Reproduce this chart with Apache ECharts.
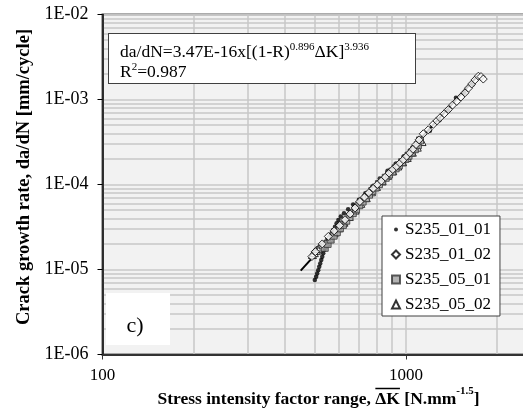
<!DOCTYPE html>
<html><head><meta charset="utf-8">
<script src="https://cdn.jsdelivr.net/npm/echarts@6/dist/echarts.min.js"></script>
<style>html,body{margin:0;padding:0;background:#fff}#c{width:523px;height:412px}</style>
</head><body><div id="c"></div>
<script>
// ---- data ----
const xTickLabels = ['100', '1000'];
const yTickLabels = ['1E-06', '1E-05', '1E-04', '1E-03', '1E-02'];
const seriesNames = ['S235_01_01', 'S235_01_02', 'S235_05_01', 'S235_05_02'];

const fitX = [450, 1700];
const fitY = [9.7e-6, 1.8e-3];

const s0101X = [501, 506, 510, 514, 518, 522, 526, 530, 534, 539, 544, 549, 555, 562, 569, 576, 584, 591, 599, 610, 625, 645, 670, 700, 735, 775, 820, 870, 925, 985, 1050, 1120, 1200, 1290, 1380, 1462, 1560, 1660];
const s0101Y = [7.5e-6, 8.2e-6, 9.0e-6, 9.8e-6, 1.08e-5, 1.18e-5, 1.29e-5, 1.41e-5, 1.55e-5, 1.7e-5, 1.85e-5, 2.02e-5, 2.22e-5, 2.44e-5, 2.67e-5, 2.92e-5, 3.19e-5, 3.5e-5, 3.82e-5, 4.2e-5, 4.6e-5, 5.1e-5, 5.8e-5, 6.6e-5, 7.9e-5, 9.5e-5, 1.18e-4, 1.45e-4, 1.75e-4, 2.15e-4, 2.7e-4, 3.4e-4, 4.3e-4, 5.7e-4, 7.3e-4, 1.05e-3, 1.2e-3, 1.5e-3];

const s0102X = [490, 503, 530, 555, 580, 605, 630, 655, 680, 705, 730, 755, 780, 805, 830, 855, 880, 905, 930, 955, 980, 1005, 1030, 1055, 1080, 1105, 1141, 1185, 1231, 1265, 1296, 1338, 1380, 1425, 1471, 1518, 1566, 1608, 1648, 1690, 1733, 1768, 1799];
const s0102Y = [1.42e-5, 1.62e-5, 2.0e-5, 2.45e-5, 2.85e-5, 3.3e-5, 3.85e-5, 4.5e-5, 5.3e-5, 6.3e-5, 7.1e-5, 8.0e-5, 9.0e-5, 1.0e-4, 1.1e-4, 1.22e-4, 1.36e-4, 1.5e-4, 1.63e-4, 1.78e-4, 1.95e-4, 2.15e-4, 2.35e-4, 2.6e-4, 2.95e-4, 3.35e-4, 3.95e-4, 4.4e-4, 5.1e-4, 5.6e-4, 6.1e-4, 6.8e-4, 7.6e-4, 8.6e-4, 9.5e-4, 1.07e-3, 1.2e-3, 1.36e-3, 1.52e-3, 1.7e-3, 1.88e-3, 1.86e-3, 1.74e-3];

const s0501X = [540, 552, 565, 578, 592, 606, 620, 636, 652, 668, 685, 702, 720, 738, 756, 775, 795, 815, 836, 858, 880, 902, 925, 948, 972, 996, 1020, 1045, 1070, 1095, 1113];
const s0501Y = [1.8e-5, 2.0e-5, 2.25e-5, 2.5e-5, 2.75e-5, 3.05e-5, 3.35e-5, 3.75e-5, 4.15e-5, 4.6e-5, 5.1e-5, 5.7e-5, 6.3e-5, 6.9e-5, 7.6e-5, 8.4e-5, 9.2e-5, 1.01e-4, 1.1e-4, 1.2e-4, 1.31e-4, 1.42e-4, 1.55e-4, 1.68e-4, 1.83e-4, 2.0e-4, 2.18e-4, 2.38e-4, 2.6e-4, 2.9e-4, 3.3e-4];

const s0502X = [492, 499, 507, 515, 523, 533, 545, 560, 580, 600, 625, 650, 680, 710, 740, 770, 800, 835, 870, 905, 940, 975, 1010, 1050, 1090, 1130];
const s0502Y = [1.5e-5, 1.58e-5, 1.68e-5, 1.76e-5, 1.84e-5, 1.95e-5, 2.1e-5, 2.35e-5, 2.7e-5, 3.1e-5, 3.6e-5, 4.2e-5, 5.0e-5, 6.0e-5, 7.0e-5, 8.2e-5, 9.5e-5, 1.1e-4, 1.28e-4, 1.45e-4, 1.65e-4, 1.85e-4, 2.08e-4, 2.4e-4, 2.75e-4, 3.2e-4];

const annotLine1 = ['da/dN=3.47E-16x[(1-R)', '0.896', 'ΔK]', '3.936'];
const annotLine2 = ['R', '2', '=0.987'];
const panelLabel = 'c)';
const xTitle = ['Stress intensity factor range, ', 'ΔK', ' [N.mm', '-1.5', ']'];
const yTitle = 'Crack growth rate, da/dN [mm/cycle]';

// ---- chart ----
const FONT = '"Liberation Serif", "Times New Roman", serif';
const zip = (xs, ys) => xs.map((x, i) => [x, ys[i]]);
const mc = document.createElement('canvas').getContext('2d');
function tw(t, size, bold) { mc.font = (bold ? 'bold ' : '') + size + 'px ' + FONT; return mc.measureText(t).width; }

const TS = 17.5, SUP = 11;
const xTotal = tw(xTitle[0] + xTitle[1] + xTitle[2], TS, true) + tw(xTitle[3], SUP, true) + tw(xTitle[4], TS, true);
const xT0 = 318.5 - xTotal / 2;
const ovX1 = xT0 + tw(xTitle[0], TS, true);
const ovX2 = ovX1 + tw(xTitle[1], TS, true);

const annotW = tw(annotLine1[0], TS) + tw(annotLine1[1], SUP) + tw(annotLine1[2], TS) + tw(annotLine1[3], SUP);
const annotPadR = Math.max(6, 415 - 120 - annotW);

const gridCol = '#c8c8c8';
const chart = echarts.init(document.getElementById('c'), null, { renderer: 'canvas' });
chart.setOption({
  animation: false,
  backgroundColor: '#fff',
  grid: { left: 102.5, top: 14.5, width: 606.8, height: 340, show: true, backgroundColor: '#f2f2f2', borderColor: '#595959', borderWidth: 2, containLabel: false, outerBoundsMode: 'none' },
  xAxis: {
    type: 'log', logBase: 10, min: 100, max: 10000,
    axisLine: { show: true, onZero: false, lineStyle: { color: '#333', width: 2 } },
    axisTick: { show: true, inside: false, length: 5, lineStyle: { color: '#333', width: 1 } },
    axisLabel: { fontFamily: FONT, fontSize: 17, color: '#000', margin: 13,
      formatter: v => { const i = Math.round(Math.log10(v)) - 2; return xTickLabels[i] || ''; } },
    splitLine: { show: true, lineStyle: { color: gridCol, width: 1.5 } },
    minorTick: { show: false, splitNumber: 9 },
    minorSplitLine: { show: true, lineStyle: { color: gridCol, width: 1.5 } }
  },
  yAxis: {
    type: 'log', logBase: 10, min: 1e-6, max: 1e-2,
    axisLine: { show: true, onZero: false, lineStyle: { color: '#000', width: 1.5 } },
    axisTick: { show: true, inside: false, length: 5, lineStyle: { color: '#000', width: 1 } },
    axisLabel: { fontFamily: FONT, fontSize: 18, color: '#000', margin: 14,
      formatter: v => { const i = Math.round(Math.log10(v)) + 6; return yTickLabels[i] || ''; } },
    splitLine: { show: true, lineStyle: { color: gridCol, width: 1.5 } },
    minorTick: { show: false, splitNumber: 9 },
    minorSplitLine: { show: true, lineStyle: { color: gridCol, width: 1.5 } }
  },
  legend: {
    left: 382, top: 216, orient: 'vertical',
    data: [
      { name: seriesNames[0], icon: 'path://M0,0M8,8M2,4a2,2 0 1,0 4,0a2,2 0 1,0 -4,0' },
      { name: seriesNames[1] }, { name: seriesNames[2] }, { name: seriesNames[3] }
    ],
    itemWidth: 8, itemHeight: 8, itemGap: 8,
    padding: [5, 9, 3, 9],
    backgroundColor: '#fff', borderColor: '#404040', borderWidth: 1, borderRadius: 0,
    textStyle: { fontFamily: FONT, fontSize: 17, color: '#000', lineHeight: 17 },
    selectedMode: false
  },
  series: [
    { type: 'line', name: 'fit', data: zip(fitX, fitY), symbol: 'none', lineStyle: { color: '#000', width: 2 }, z: 1, silent: true },
    { type: 'scatter', name: seriesNames[0], data: zip(s0101X, s0101Y), symbol: 'circle', symbolSize: 4.5,
      itemStyle: { color: '#000' }, z: 2 },
    { type: 'scatter', name: seriesNames[3], data: zip(s0502X, s0502Y), symbol: 'triangle', symbolSize: 8,
      itemStyle: { color: '#fff', borderColor: '#000', borderWidth: 1 }, z: 3 },
    { type: 'scatter', name: seriesNames[2], data: zip(s0501X, s0501Y), symbol: 'rect', symbolSize: 7,
      itemStyle: { color: '#a0a0a0', borderColor: '#333', borderWidth: 1 }, z: 4 },
    { type: 'scatter', name: seriesNames[1], data: zip(s0102X, s0102Y), symbol: 'diamond', symbolSize: 8,
      itemStyle: { color: '#fff', borderColor: '#000', borderWidth: 1 }, z: 5 }
  ],
  graphic: [
    { type: 'text', z: 100, x: 109, y: 34,
      style: {
        text: '{n|' + annotLine1[0] + '}{s|' + annotLine1[1] + '}{n|' + annotLine1[2] + '}{s|' + annotLine1[3] + '}\n{n|' + annotLine2[0] + '}{s|' + annotLine2[1] + '}{n|' + annotLine2[2] + '}',
        align: 'left', verticalAlign: 'top',
        backgroundColor: '#fff', borderColor: '#404040', borderWidth: 1, padding: [8, annotPadR, 1, 11],
        rich: {
          n: { fontFamily: FONT, fontSize: TS, lineHeight: 20, fill: '#000' },
          s: { fontFamily: FONT, fontSize: SUP, lineHeight: 11, verticalAlign: 'top', fill: '#000' }
        }
      } },
    { type: 'rect', z: 100, shape: { x: 106, y: 293, width: 64, height: 52 }, style: { fill: '#fff' } },
    { type: 'text', z: 101, x: 135, y: 326,
      style: { text: panelLabel, fontFamily: FONT, fontSize: 22, fill: '#000', align: 'center', verticalAlign: 'middle' } },
    { type: 'text', z: 100, x: xT0, y: 399,
      style: {
        text: '{b|' + xTitle[0] + xTitle[1] + xTitle[2] + '}{s|' + xTitle[3] + '}{b|' + xTitle[4] + '}',
        align: 'left', verticalAlign: 'middle',
        rich: {
          b: { fontFamily: FONT, fontSize: TS, fontWeight: 'bold', lineHeight: 26, fill: '#000' },
          s: { fontFamily: FONT, fontSize: SUP, fontWeight: 'bold', lineHeight: 11, verticalAlign: 'top', fill: '#000' }
        }
      } },
    { type: 'line', z: 100, shape: { x1: ovX1, y1: 388.5, x2: ovX2, y2: 388.5 }, style: { stroke: '#000', lineWidth: 1.5 } },
    { type: 'text', z: 100, x: 24, y: 177, rotation: Math.PI / 2,
      style: { text: yTitle, fontFamily: FONT, fontSize: 18.5, fontWeight: 'bold', fill: '#000', align: 'center', verticalAlign: 'middle' } }
  ]
});
</script></body></html>
